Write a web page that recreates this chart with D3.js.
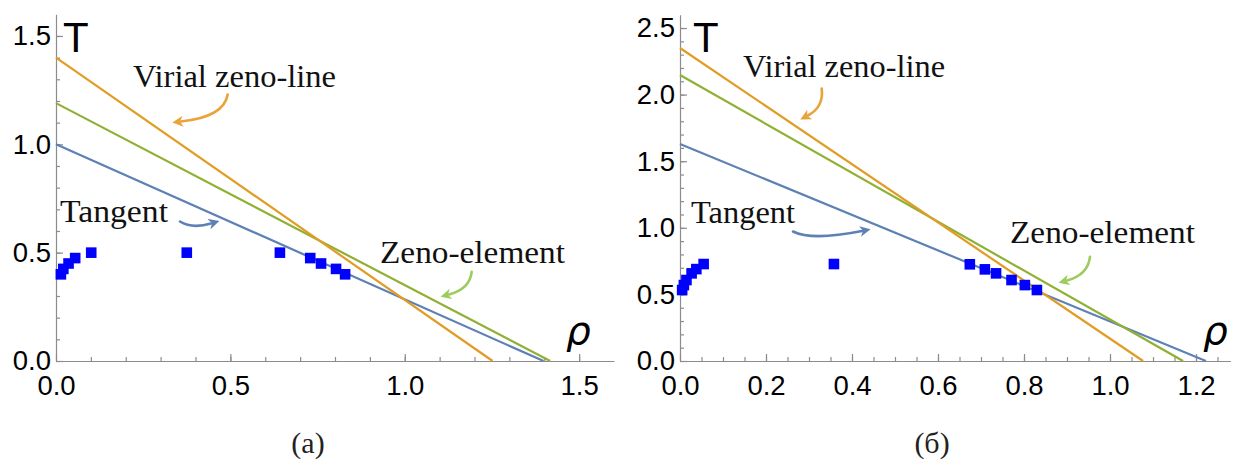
<!DOCTYPE html>
<html>
<head>
<meta charset="utf-8">
<script src="https://cdn.jsdelivr.net/npm/d3@7"></script>
<style>
  body { margin: 0; background: #fff; }
  .tick text { font-family: "Liberation Sans", Arial, sans-serif; font-size: 27.5px; fill: #000; }
  .axis path, .axis line { stroke: #8c8c8c; stroke-width: 1.2; }
  .note { font-family: "Liberation Serif", "DejaVu Serif", serif; font-size: 32px; fill: #111; }
  .caption { font-family: "Liberation Serif", "DejaVu Serif", serif; font-size: 30px; fill: #222; }
</style>
</head>
<body>
<svg id="chart" width="1237" height="461"></svg>
<script>
// ── Data: panel (a) ─────────────────────────────────────────────────────
const rhoA = [0.014, 0.021, 0.036, 0.055, 0.101, 0.375, 0.642, 0.729, 0.760, 0.803, 0.829];
const tempA = [0.400, 0.425, 0.450, 0.475, 0.500, 0.500, 0.500, 0.475, 0.450, 0.425, 0.400];
// lines: [T at rho=0, rho at T=0]
const linesA = [
  { name: "Tangent", t0: 1.00, rho0: 1.398, color: "#5E81B5" },
  { name: "Zeno-element", t0: 1.19, rho0: 1.417, color: "#8FB032" },
  { name: "Virial zeno-line", t0: 1.40, rho0: 1.252, color: "#E19C24" },
];

// ── Data: panel (б) ─────────────────────────────────────────────────────
const rhoB = [0.005, 0.009, 0.015, 0.027, 0.038, 0.055, 0.358, 0.674, 0.709, 0.735, 0.771, 0.802, 0.830];
const tempB = [0.533, 0.570, 0.608, 0.658, 0.690, 0.728, 0.728, 0.726, 0.688, 0.658, 0.608, 0.570, 0.533];
const linesB = [
  { name: "Tangent", t0: 1.63, rho0: 1.223, color: "#5E81B5" },
  { name: "Zeno-element", t0: 2.147, rho0: 1.170, color: "#8FB032" },
  { name: "Virial zeno-line", t0: 2.35, rho0: 1.077, color: "#E19C24" },
];

// ── Ticks ───────────────────────────────────────────────────────────────
const xMajorA = [0, 0.5, 1.0, 1.5];
const yMajorA = [0, 0.5, 1.0, 1.5];
const xMajorB = [0, 0.2, 0.4, 0.6, 0.8, 1.0, 1.2];
const yMajorB = [0, 0.5, 1.0, 1.5, 2.0, 2.5];

const svg = d3.select("#chart");

// arrow heads
const defs = svg.append("defs");
[["orange", "#E8A33A"], ["blue", "#5E81B5"], ["green", "#9CCB5E"]].forEach(([id, c]) => {
  defs.append("marker")
    .attr("id", "head-" + id)
    .attr("viewBox", "0 0 10 10")
    .attr("refX", 2).attr("refY", 5)
    .attr("markerWidth", 4.2).attr("markerHeight", 4.2)
    .attr("orient", "auto")
    .append("path")
    .attr("d", "M0,0 L10,5 L0,10 L3,5 Z")
    .attr("fill", c);
});

function panel(cfg) {
  const x = d3.scaleLinear().domain(cfg.xDomain).range(cfg.xRange);
  const y = d3.scaleLinear().domain(cfg.yDomain).range(cfg.yRange);
  const g = svg.append("g");

  // minor ticks
  g.append("g").attr("class", "axis")
    .attr("transform", `translate(0,${y(0)})`)
    .call(d3.axisBottom(x).tickValues(cfg.xMinor).tickSize(-4).tickFormat(""))
    .call((a) => a.select(".domain").remove());
  g.append("g").attr("class", "axis")
    .attr("transform", `translate(${x(0)},0)`)
    .call(d3.axisLeft(y).tickValues(cfg.yMinor).tickSize(-4).tickFormat(""))
    .call((a) => a.select(".domain").remove());

  // major ticks + domain
  g.append("g").attr("class", "axis")
    .attr("transform", `translate(0,${y(0)})`)
    .call(d3.axisBottom(x).tickValues(cfg.xMajor).tickSizeInner(-7).tickSizeOuter(0)
      .tickFormat(d3.format(".1f")))
    .call((a) => a.selectAll(".tick text").attr("dy", null).attr("y", 34));
  g.append("g").attr("class", "axis")
    .attr("transform", `translate(${x(0)},0)`)
    .call(d3.axisLeft(y).tickValues(cfg.yMajor).tickSizeInner(-7).tickSizeOuter(0)
      .tickPadding(5).tickFormat(d3.format(".1f")));

  // lines
  const line = d3.line().x((d) => x(d[0])).y((d) => y(d[1]));
  cfg.lines.forEach((l) => {
    g.append("path")
      .attr("d", line([[0, l.t0], [l.rho0, 0]]))
      .attr("fill", "none")
      .attr("stroke", l.color)
      .attr("stroke-width", 2.2);
  });

  // points
  const pts = cfg.rho.map((r, i) => [r, cfg.temp[i]]);
  g.selectAll(".pt").data(pts).join("rect")
    .attr("x", (d) => x(d[0]) - 5.3)
    .attr("y", (d) => y(d[1]) - 5.3)
    .attr("width", 10.6).attr("height", 10.6)
    .attr("fill", "#0000FF");

  // axis titles
  g.append("text")
    .attr("x", x(0) + cfg.tDx).attr("y", 52)
    .style("font-family", "Liberation Sans, Arial, sans-serif")
    .style("font-size", "42px")
    .text("T");
  g.append("text")
    .attr("x", cfg.rhoX).attr("y", 344)
    .style("font-family", "DejaVu Sans, sans-serif")
    .style("font-size", "39px")
    .style("font-style", "italic")
    .text("ρ");

  // notes
  cfg.notes.forEach((n) => {
    g.append("text").attr("class", "note")
      .attr("x", n.x).attr("y", n.y)
      .attr("textLength", n.w).attr("lengthAdjust", "spacingAndGlyphs")
      .text(n.text);
    g.append("path")
      .attr("d", n.arrow)
      .attr("fill", "none")
      .attr("stroke", n.color)
      .attr("stroke-width", 2.6)
      .attr("stroke-linecap", "round")
      .attr("marker-end", `url(#head-${n.head})`);
  });

  svg.append("text").attr("class", "caption")
    .attr("x", cfg.capX).attr("y", 453)
    .attr("text-anchor", "middle")
    .text(cfg.caption);
}

panel({
  xDomain: [0, 1.6], xRange: [56, 614],
  yDomain: [0, 1.6], yRange: [361, 14.3],
  xMajor: xMajorA, yMajor: yMajorA,
  xMinor: d3.range(0.1, 1.6, 0.1), yMinor: d3.range(0.1, 1.6, 0.1),
  lines: linesA, rho: rhoA, temp: tempA,
  tDx: 7, rhoX: 566,
  notes: [
    { text: "Virial zeno-line", x: 133, y: 87, w: 203, color: "#E8A33A", head: "orange",
      arrow: "M227.7,94.5 Q224,117 181,121.5" },
    { text: "Tangent", x: 60, y: 222, w: 108, color: "#5E81B5", head: "blue",
      arrow: "M180,221.5 Q192,229 211,223.5" },
    { text: "Zeno-element", x: 380, y: 263, w: 185, color: "#9CCB5E", head: "green",
      arrow: "M471.7,271.7 Q470,289 449,294.5" },
  ],
  capX: 308, caption: "(a)",
});

panel({
  xDomain: [0, 1.28], xRange: [680, 1230.4],
  yDomain: [0, 2.6], yRange: [361, 14.7],
  xMajor: xMajorB, yMajor: yMajorB,
  xMinor: d3.range(0.05, 1.28, 0.05), yMinor: d3.range(0.1, 2.6, 0.1),
  lines: linesB, rho: rhoB, temp: tempB,
  tDx: 13, rhoX: 1203,
  notes: [
    { text: "Virial zeno-line", x: 743, y: 77, w: 202, color: "#E8A33A", head: "orange",
      arrow: "M821.7,88.5 Q824,107 808,115.5" },
    { text: "Tangent", x: 691, y: 223, w: 104, color: "#5E81B5", head: "blue",
      arrow: "M793,231.5 Q812,241 862,231" },
    { text: "Zeno-element", x: 1010, y: 243, w: 185, color: "#9CCB5E", head: "green",
      arrow: "M1090,256.7 Q1088,275 1067,280.5" },
  ],
  capX: 932, caption: "(б)",
});
</script>
</body>
</html>
